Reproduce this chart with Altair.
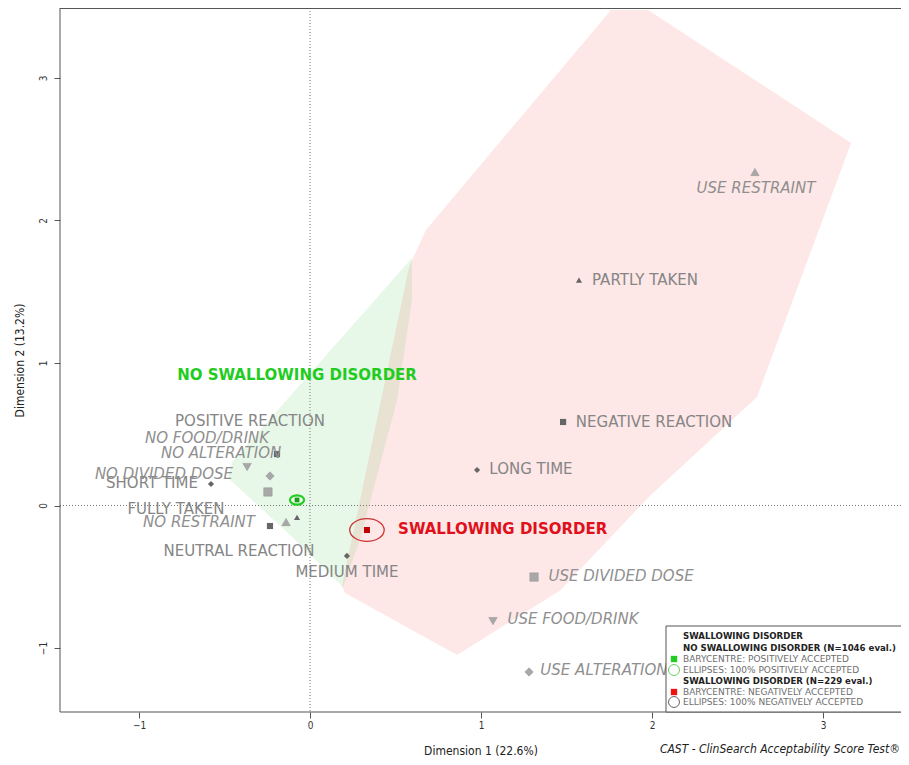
import altair as alt
import pandas as pd

# ---------------- data ----------------
cat_names = ["USE RESTRAINT", "PARTLY TAKEN", "NEGATIVE REACTION", "LONG TIME",
             "MEDIUM TIME", "USE DIVIDED DOSE", "USE FOOD/DRINK", "USE ALTERATION",
             "POSITIVE REACTION", "NO FOOD/DRINK", "NO ALTERATION", "NO DIVIDED DOSE",
             "SHORT TIME", "FULLY TAKEN", "NO RESTRAINT", "NEUTRAL REACTION"]
cat_x = [2.602, 1.573, 1.480, 0.977, 0.216, 1.310, 1.070, 1.281,
         -0.193, -0.368, -0.234, -0.246, -0.579, -0.076, -0.140, -0.234]
cat_y = [2.340, 1.582, 0.586, 0.249, -0.354, -0.502, -0.811, -1.168,
         0.361, 0.270, 0.207, 0.095, 0.151, -0.083, -0.116, -0.144]
cat_kind = ["restraint", "taken", "reaction", "time", "time", "dose", "food", "alteration",
            "reaction", "food", "alteration", "dose", "time", "taken", "restraint", "reaction"]
# label anchor (centre) positions
label_x = [2.608, 1.959, 2.012, 1.292, 0.216, 1.819, 1.538, 1.719,
           -0.351, -0.602, -0.520, -0.854, -0.924, -0.784, -0.649, -0.415]
label_y = [2.228, 1.582, 0.586, 0.256, -0.467, -0.495, -0.796, -1.154,
           0.593, 0.474, 0.368, 0.221, 0.158, -0.025, -0.116, -0.319]

group_names = ["NO SWALLOWING DISORDER", "SWALLOWING DISORDER"]
bary_x = [-0.076, 0.333]
bary_y = [0.039, -0.172]
group_label_x = [-0.076, 0.515]
group_label_y = [0.916, -0.165]

green_hull_x = [0.596, 0.596, 0.509, 0.292, 0.193, -0.117, -0.480, -0.456]
green_hull_y = [1.737, 1.442, 0.740, -0.242, -0.572, -0.207, 0.193, 0.305]
red_hull_x = [1.760, 1.977, 3.164, 2.614, 1.993, 1.462, 0.860, 0.205, 0.187, 0.579, 0.678]
red_hull_y = [3.477, 3.477, 2.544, 0.761, 0.074, -0.596, -1.049, -0.614, -0.565, 1.674, 1.933]

x_ticks = [-1, 0, 1, 2, 3]
y_ticks = [-1, 0, 1, 2, 3]

# ---------------- styling ----------------
W, H = 841, 704
FONT = "DejaVu Sans"
COND = "DejaVu Sans Condensed, DejaVu Sans"
LABEL_GREY = "#858585"
shape_of = {"restraint": "triangle-up", "taken": "triangle-up", "reaction": "square",
            "time": "diamond", "dose": "square", "food": "triangle-down",
            "alteration": "diamond"}
light = {"restraint", "dose", "food", "alteration"}

pts = pd.DataFrame({"name": cat_names, "x": cat_x, "y": cat_y, "kind": cat_kind,
                    "lx": label_x, "ly": label_y})
pts["shape"] = pts["kind"].map(shape_of)
pts["light"] = pts["kind"].isin(light)
pts["italic"] = pts["name"].str.startswith(("USE", "NO "))

xs = alt.Scale(domain=[-1.462, 3.456], nice=False, zero=False)
ys = alt.Scale(domain=[-1.449, 3.491], nice=False, zero=False)

x_axis = alt.Axis(values=x_ticks, format="d", grid=False, domain=False,
                  tickSize=6, tickColor="#555", labelColor="#333",
                  labelFont=COND, labelFontSize=10, labelPadding=2,
                  titleFont=COND, titleFontSize=12, titleFontWeight="normal",
                  titleColor="#222", titlePadding=15)
y_axis = alt.Axis(values=y_ticks, format="d", grid=False, domain=False,
                  tickSize=6, tickColor="#555", labelColor="#333",
                  labelFont=COND, labelFontSize=10, labelAngle=270,
                  labelAlign="center", labelBaseline="bottom", labelPadding=6,
                  titleFont=COND, titleFontSize=12, titleFontWeight="normal",
                  titleColor="#222", titlePadding=12)
XT = "Dimension 1 (22.6%)"
YT = "Dimension 2 (13.2%)"


def X(f):
    return alt.X(f, type="quantitative", scale=xs, axis=x_axis, title=XT)


def Y(f):
    return alt.Y(f, type="quantitative", scale=ys, axis=y_axis, title=YT)


green_df = pd.DataFrame({"x": green_hull_x, "y": green_hull_y, "i": range(len(green_hull_x))})
red_df = pd.DataFrame({"x": red_hull_x, "y": red_hull_y, "i": range(len(red_hull_x))})

red_poly = alt.Chart(red_df).mark_line(fill="#f43c3c", fillOpacity=0.12, strokeOpacity=0,
                                       clip=True).encode(x=X("x"), y=Y("y"), order="i:Q")
green_poly = alt.Chart(green_df).mark_line(fill="#2fbf2f", fillOpacity=0.11, strokeOpacity=0,
                                           clip=True).encode(x=X("x"), y=Y("y"), order="i:Q")

zero_v = alt.Chart(pd.DataFrame({"x": [0.0]})).mark_rule(
    color="#777", strokeDash=[1, 2], strokeWidth=1).encode(x=X("x"))
zero_h = alt.Chart(pd.DataFrame({"y": [0.0]})).mark_rule(
    color="#777", strokeDash=[1, 2], strokeWidth=1).encode(y=Y("y"))

dark_pts = alt.Chart(pts[~pts["light"]]).mark_point(
    filled=True, color="#666666", opacity=1, size=38).encode(
    x=X("x"), y=Y("y"), shape=alt.Shape("shape:N", scale=None))
light_pts = alt.Chart(pts[pts["light"]]).mark_point(
    filled=True, color="#a8a8a8", opacity=1, size=70, stroke="#999", strokeWidth=0.6).encode(
    x=X("x"), y=Y("y"), shape=alt.Shape("shape:N", scale=None))

lab_plain = alt.Chart(pts[~pts["italic"]]).mark_text(
    font=FONT, fontSize=15, color=LABEL_GREY, align="center", baseline="middle").encode(
    x=X("lx"), y=Y("ly"), text="name:N")
lab_ital = alt.Chart(pts[pts["italic"]]).mark_text(
    font=FONT, fontSize=15, fontStyle="italic", color="#8f8f8f", align="center",
    baseline="middle").encode(x=X("lx"), y=Y("ly"), text="name:N")

grp = pd.DataFrame({"name": group_names, "bx": bary_x, "by": bary_y,
                    "lx": group_label_x, "ly": group_label_y})
ELL = "M -1 0 A 1 0.66 0 1 1 1 0 A 1 0.66 0 1 1 -1 0 Z"
green_ell = alt.Chart(grp.iloc[[0]]).mark_point(
    shape=ELL, size=200, filled=False, stroke="#22cc22", strokeWidth=2.2, opacity=1).encode(
    x=X("bx"), y=Y("by"))
green_bar = alt.Chart(grp.iloc[[0]]).mark_point(
    shape="square", size=22, filled=True, color="#1a9e1a", opacity=1).encode(x=X("bx"), y=Y("by"))
red_ell = alt.Chart(grp.iloc[[1]]).mark_point(
    shape=ELL, size=1190, filled=False, stroke="#cc3333", strokeWidth=1.3, opacity=1).encode(
    x=X("bx"), y=Y("by"))
red_bar = alt.Chart(grp.iloc[[1]]).mark_point(
    shape="square", size=36, filled=True, color="#c00000", opacity=1).encode(x=X("bx"), y=Y("by"))
green_lab = alt.Chart(grp.iloc[[0]]).mark_text(
    font=FONT, fontSize=15, fontWeight="bold", color="#1fcc1f", align="center",
    baseline="middle").encode(x=X("lx"), y=Y("ly"), text="name:N")
red_lab = alt.Chart(grp.iloc[[1]]).mark_text(
    font=FONT, fontSize=15, fontWeight="bold", color="#e0101a", align="left",
    baseline="middle").encode(x=X("lx"), y=Y("ly"), text="name:N")

# ---------------- frame (open on the right, as in the reference) ----------------
one = pd.DataFrame({"a": [0]})
frame_top = alt.Chart(one).mark_rule(color="#555", strokeWidth=1).encode(
    x=alt.value(0), x2=alt.value(W), y=alt.value(0.5))
frame_bottom = alt.Chart(one).mark_rule(color="#555", strokeWidth=1).encode(
    x=alt.value(0), x2=alt.value(W), y=alt.value(H))
frame_left = alt.Chart(one).mark_rule(color="#555", strokeWidth=1).encode(
    x=alt.value(0), y=alt.value(0), y2=alt.value(H))

# ---------------- custom legend box ----------------
leg_box = alt.Chart(one).mark_rect(fill="white", stroke="#555", strokeWidth=1).encode(
    x=alt.value(606), x2=alt.value(W + 20), y=alt.value(618), y2=alt.value(H))

legend_lines = [
    ("SWALLOWING DISORDER", "bold", "#222"),
    ("NO SWALLOWING DISORDER (N=1046 eval.)", "bold", "#222"),
    ("BARYCENTRE: POSITIVELY ACCEPTED", "normal", "#6e6e6e"),
    ("ELLIPSES: 100% POSITIVELY ACCEPTED", "normal", "#6e6e6e"),
    ("SWALLOWING DISORDER (N=229 eval.)", "bold", "#222"),
    ("BARYCENTRE: NEGATIVELY ACCEPTED", "normal", "#6e6e6e"),
    ("ELLIPSES: 100% NEGATIVELY ACCEPTED", "normal", "#6e6e6e"),
]
legend_rows_y = [628, 640, 651, 661.5, 672.5, 683.5, 693.5]
leg_layers = []
for (txt, wt, col), yy in zip(legend_lines, legend_rows_y):
    leg_layers.append(alt.Chart(one).mark_text(
        text=txt, font=FONT, fontSize=8.6 if wt == "bold" else 9, fontWeight=wt, color=col,
        align="left", baseline="middle").encode(x=alt.value(623), y=alt.value(yy)))
leg_layers.append(alt.Chart(one).mark_point(shape="square", filled=True, color="#22cc22",
                                            size=40, opacity=1).encode(
    x=alt.value(614), y=alt.value(651)))
leg_layers.append(alt.Chart(one).mark_point(shape="circle", filled=False, stroke="#66cc66",
                                            size=120, strokeWidth=1, opacity=1).encode(
    x=alt.value(614), y=alt.value(662)))
leg_layers.append(alt.Chart(one).mark_point(shape="square", filled=True, color="#ee1111",
                                            size=40, opacity=1).encode(
    x=alt.value(614), y=alt.value(684)))
leg_layers.append(alt.Chart(one).mark_point(shape="circle", filled=False, stroke="#666",
                                            size=120, strokeWidth=1, opacity=1).encode(
    x=alt.value(614), y=alt.value(694)))

credit = alt.Chart(one).mark_text(
    text="CAST - ClinSearch Acceptability Score Test®", font=COND, fontSize=12,
    fontStyle="italic", color="#222", align="right", baseline="middle").encode(
    x=alt.value(W - 1), y=alt.value(741))

chart = alt.layer(
    red_poly, green_poly, zero_v, zero_h, dark_pts, light_pts,
    lab_plain, lab_ital, red_ell, red_bar, green_ell, green_bar, green_lab, red_lab,
    frame_top, frame_bottom, frame_left,
    leg_box, *leg_layers, credit
).properties(
    width=W, height=H,
    autosize="none",
    padding={"left": 52, "top": 0, "right": 0, "bottom": 44},
).configure_view(stroke=None)

chart.save("out.html", embed_options={"renderer": "svg", "actions": False})
